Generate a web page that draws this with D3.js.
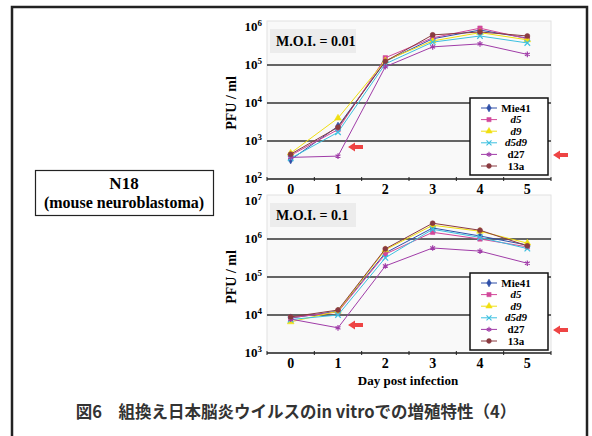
<!DOCTYPE html>
<html>
<head>
<meta charset="utf-8">
<script src="https://cdn.jsdelivr.net/npm/d3@7"></script>
<style>
  body { margin: 0; background: #fff; }
  svg { display: block; }
</style>
</head>
<body>
<svg width="592" height="436"></svg>
<script>
// data
const days = ['0', '1', '2', '3', '4', '5'];
const seriesNames = ['Mie41', 'd5', 'd9', 'd5d9', 'd27', '13a'];
const seriesColors = ['#2f4fa8', '#d2489a', '#f0df10', '#3cc0e0', '#a03ca8', '#8a3a40'];

// M.O.I. = 0.01 (PFU/ml)
const moi001 = {
  Mie41: [320, 2450, 1.25e5, 4.9e5, 8.3e5, 5.1e5],
  d5:    [420, 2000, 1.55e5, 5.2e5, 9.3e5, 4.9e5],
  d9:    [480, 4000, 1.3e5, 4.3e5, 7.1e5, 4.6e5],
  d5d9:  [350, 1700, 1.07e5, 4.0e5, 5.8e5, 3.8e5],
  d27:   [370, 400, 9.0e4, 3.0e5, 3.6e5, 1.9e5],
  '13a': [450, 2300, 1.25e5, 6.2e5, 7.4e5, 5.8e5]
};

// M.O.I. = 0.1 (PFU/ml)
const moi01 = {
  Mie41: [8300, 12600, 4.3e5, 1.95e6, 1.2e6, 6.9e5],
  d5:    [8500, 12000, 4.0e5, 1.5e6, 1.0e6, 6.2e5],
  d9:    [6600, 12600, 5.2e5, 2.3e6, 1.6e6, 7.8e5],
  d5d9:  [7600, 10000, 3.2e5, 1.8e6, 1.1e6, 5.6e5],
  d27:   [7800, 4600, 1.95e5, 5.8e5, 4.8e5, 2.3e5],
  '13a': [8900, 13500, 5.5e5, 2.6e6, 1.7e6, 6.6e5]
};

const svg = d3.select('svg');
const serif = "'Liberation Serif', 'DejaVu Serif', serif";

// outer frame
svg.append('rect')
  .attr('x', 12).attr('y', 7)
  .attr('width', 575).attr('height', 440)
  .attr('fill', 'none')
  .attr('stroke', '#222')
  .attr('stroke-width', 2.5);

// N18 label box
svg.append('rect')
  .attr('x', 35.5).attr('y', 170.5)
  .attr('width', 178).attr('height', 45)
  .attr('fill', '#fff')
  .attr('stroke', '#222')
  .attr('stroke-width', 1.2);
svg.append('text')
  .attr('x', 124).attr('y', 189)
  .attr('text-anchor', 'middle')
  .style('font-family', serif).attr('font-weight', 'bold').attr('font-size', 17)
  .text('N18');
svg.append('text')
  .attr('x', 124).attr('y', 208)
  .attr('text-anchor', 'middle')
  .style('font-family', serif).attr('font-weight', 'bold').attr('font-size', 16)
  .text('(mouse neuroblastoma)');

const markerOf = {
  Mie41: d3.symbolDiamond,
  d5: d3.symbolSquare,
  d9: d3.symbolTriangle,
  d5d9: d3.symbolTimes || d3.symbolCross,
  d27: d3.symbolAsterisk || d3.symbolCross,
  '13a': d3.symbolCircle
};
const strokedMarker = { d5d9: true, d27: true };

function drawArrow(g, x, y) {
  g.append('path')
    .attr('d', 'M' + x + ',' + y + 'l7,-4.5l0,2.5l8,0l0,4l-8,0l0,2.5z')
    .attr('fill', '#ee4444');
}

function drawPanel(top, bottom, yMin, yMax, data, moiLabel, legendTop, arrowY, legendArrowY, showXTitle) {
  const x = d3.scalePoint().domain(days).range([267, 551]).padding(0.5);
  const y = d3.scaleLog().domain([yMin, yMax]).range([bottom, top]);
  const g = svg.append('g');

  // plot area
  g.append('rect')
    .attr('x', 267).attr('y', top - 6)
    .attr('width', 284).attr('height', bottom - top + 6)
    .attr('fill', '#f9f9f9')
    .attr('stroke', '#e2e2e2');

  // moi label
  g.append('rect')
    .attr('x', 270).attr('y', top + 2)
    .attr('width', 86).attr('height', 24)
    .attr('fill', '#ececec');
  g.append('text')
    .attr('x', 276).attr('y', top + 19)
    .style('font-family', serif).attr('font-weight', 'bold').attr('font-size', 14)
    .text(moiLabel);

  const decades = d3.range(Math.log10(yMin), Math.log10(yMax) + 1).map(e => Math.pow(10, e));

  // gridlines
  g.selectAll('.grid')
    .data(decades.slice(1, -1))
    .join('line')
      .attr('x1', 267).attr('x2', 551)
      .attr('y1', d => y(d)).attr('y2', d => y(d))
      .attr('stroke', '#333')
      .attr('stroke-width', 1.5);

  // x axis
  const xAxis = g.append('g')
    .attr('transform', 'translate(0,' + bottom + ')');
  xAxis.append('line')
    .attr('x1', 267).attr('x2', 551)
    .attr('stroke', '#222').attr('stroke-width', 1.5);
  xAxis.selectAll('.tk')
    .data(d3.range(days.length + 1))
    .join('line')
      .attr('x1', i => 267 + i * x.step()).attr('x2', i => 267 + i * x.step())
      .attr('y1', -2).attr('y2', 2)
      .attr('stroke', '#222');
  xAxis.selectAll('.lbl')
    .data(days)
    .join('text')
      .attr('x', d => x(d)).attr('y', 15)
      .attr('text-anchor', 'middle')
      .style('font-family', serif).attr('font-weight', 'bold').attr('font-size', 14)
      .text(d => d);

  if (showXTitle) {
    g.append('text')
      .attr('x', 408).attr('y', bottom + 32)
      .attr('text-anchor', 'middle')
      .style('font-family', serif).attr('font-weight', 'bold').attr('font-size', 13)
      .text('Day post infection');
  }

  // y tick labels (10^n)
  const yl = g.selectAll('.ylab')
    .data(decades)
    .join('text')
      .attr('x', 262).attr('y', d => y(d) + 4)
      .attr('text-anchor', 'end')
      .style('font-family', serif).attr('font-weight', 'bold').attr('font-size', 13);
  yl.append('tspan').text('10');
  yl.append('tspan')
    .attr('dy', -5).attr('font-size', 9)
    .text(d => Math.round(Math.log10(d)));

  // y title
  g.append('text')
    .attr('transform', 'translate(236,' + ((top + bottom) / 2) + ') rotate(-90)')
    .attr('text-anchor', 'middle')
    .style('font-family', serif).attr('font-weight', 'bold').attr('font-size', 14)
    .text('PFU / ml');

  // lines and markers
  const line = d3.line()
    .x((d, i) => x(days[i]))
    .y(d => y(d));

  seriesNames.forEach((name, k) => {
    const col = seriesColors[k];
    g.append('path')
      .datum(data[name])
      .attr('fill', 'none')
      .attr('stroke', col)
      .attr('stroke-width', 1)
      .attr('d', line);
    const sym = d3.symbol().type(markerOf[name]).size(strokedMarker[name] ? 22 : 20);
    g.selectAll('.m' + k)
      .data(data[name])
      .join('path')
        .attr('transform', (d, i) => 'translate(' + x(days[i]) + ',' + y(d) + ')')
        .attr('d', sym)
        .attr('fill', strokedMarker[name] ? 'none' : col)
        .attr('stroke', col)
        .attr('stroke-width', strokedMarker[name] ? 1.2 : 0.5);
  });

  // legend
  const lg = g.append('g').attr('transform', 'translate(470,' + legendTop + ')');
  lg.append('rect')
    .attr('width', 78).attr('height', 77)
    .attr('fill', '#fff')
    .attr('stroke', '#111')
    .attr('stroke-width', 1.5);
  seriesNames.forEach((name, k) => {
    const col = seriesColors[k];
    const ry = 10 + k * 11.6;
    lg.append('line')
      .attr('x1', 11).attr('x2', 27)
      .attr('y1', ry).attr('y2', ry)
      .attr('stroke', col);
    lg.append('path')
      .attr('transform', 'translate(19,' + ry + ')')
      .attr('d', d3.symbol().type(markerOf[name]).size(18))
      .attr('fill', strokedMarker[name] ? 'none' : col)
      .attr('stroke', col)
      .attr('stroke-width', strokedMarker[name] ? 1.1 : 0.5);
    lg.append('text')
      .attr('x', 46).attr('y', ry + 3.5)
      .attr('text-anchor', 'middle')
      .style('font-family', serif).attr('font-weight', 'bold').attr('font-size', 11)
      .attr('font-style', name.startsWith('d') && name !== 'd27' ? 'italic' : 'normal')
      .text(name);
  });

  drawArrow(g, 348, arrowY);
  drawArrow(svg, 553, legendArrowY);
}

drawPanel(27, 179, 1e2, 1e6, moi001, 'M.O.I. = 0.01', 98, 147, 155, false);
drawPanel(201, 353, 1e3, 1e7, moi01, 'M.O.I. = 0.1', 273, 325, 330, true);

// caption
svg.append('text')
  .attr('x', 296).attr('y', 418)
  .attr('text-anchor', 'middle')
  .style('font-family', "'Noto Sans CJK JP', sans-serif")
  .attr('font-weight', 'bold')
  .attr('font-size', 16.5)
  .attr('fill', '#333')
  .text('図6　組換え日本脳炎ウイルスのin vitroでの増殖特性（4）');
</script>
</body>
</html>
